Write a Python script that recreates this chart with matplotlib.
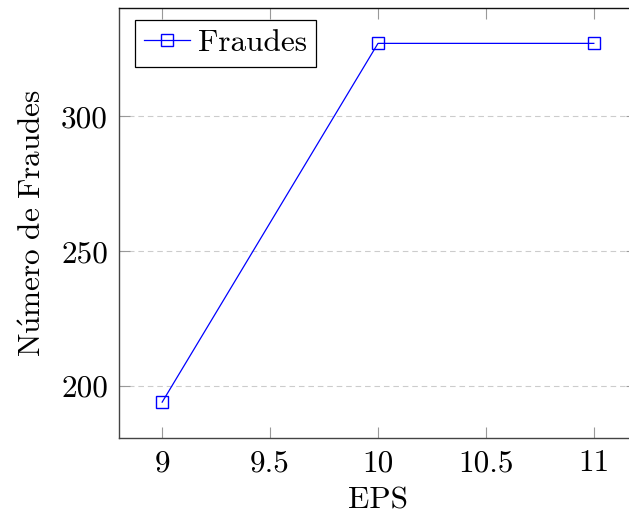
import matplotlib
matplotlib.use("Agg")
import matplotlib.pyplot as plt

eps = [9, 10, 11]
fraudes = [194, 327, 327]
xticks = [9, 9.5, 10, 10.5, 11]
xticklabels = ["9", "9.5", "10", "10.5", "11"]
yticks = [200, 250, 300]
yticklabels = ["200", "250", "300"]

plt.rcParams['font.family'] = ['cmr10', 'DejaVu Serif']
plt.rcParams['mathtext.fontset'] = 'cm'
plt.rcParams['axes.unicode_minus'] = False

FS = 22.5
fig = plt.figure(figsize=(6.29, 5.15), dpi=100)
ax = fig.add_axes([119/629, 1-438/515, (637-119)/629, (438-7.5)/515])

ax.plot(eps, fraudes, color='blue', lw=0.9, marker='s', markersize=8,
        markerfacecolor='none', markeredgecolor='blue', markeredgewidth=1.0,
        label='Fraudes')

ax.set_xlim(8.8, 11.2)
ax.set_ylim(180.7, 340.3)
ax.set_xticks(xticks)
ax.set_xticklabels(xticklabels)
ax.set_yticks(yticks)
ax.set_yticklabels(yticklabels)
ax.tick_params(direction='in', length=8, width=0.8, color='#999999',
               labelsize=FS, top=True, right=True, pad=8)
ax.yaxis.grid(True, linestyle=(0, (5, 3.5)), color='#cccccc', lw=0.8)
ax.set_axisbelow(True)
for s in ax.spines.values():
    s.set_color('#444444')
    s.set_linewidth(1.0)
ax.spines['top'].set_color('#111111')

ax.set_xlabel('EPS', fontsize=FS, labelpad=7)
ax.set_ylabel(r'$\mathrm{N\acute{u}mero\ de\ Fraudes}$', fontsize=FS, labelpad=10)

leg = ax.legend(loc='upper left', bbox_to_anchor=(16/518, 1-12.5/430.5),
                fontsize=FS, frameon=True, fancybox=False,
                edgecolor='black', framealpha=1, borderaxespad=0,
                handlelength=1.45, handletextpad=0.26, borderpad=0.3)
leg.get_frame().set_linewidth(0.9)

fig.savefig('out.png', dpi=100)
